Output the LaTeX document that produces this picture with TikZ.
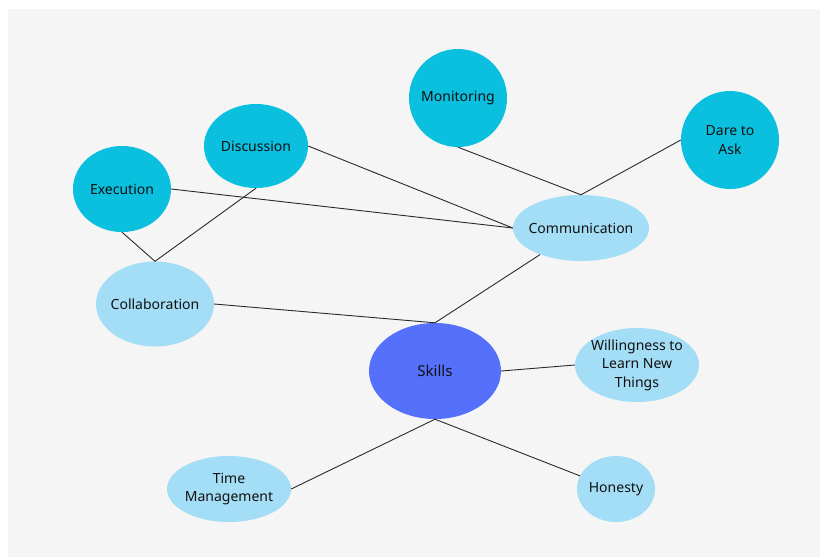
\documentclass[tikz,border=0pt]{standalone}
\usepackage{fontspec}
\setmainfont{Noto Sans}
\usetikzlibrary{shapes.geometric}
\definecolor{bgc}{HTML}{F5F5F5}
\definecolor{darkc}{HTML}{0BBFDF}
\definecolor{lightc}{HTML}{A3DDF6}
\definecolor{mainc}{HTML}{5570FA}
\definecolor{txt}{HTML}{111111}
\definecolor{edgec}{HTML}{2A2A2A}
\tikzset{
  bub/.style={ellipse, inner sep=0pt},
  dark/.style={bub, fill=darkc},
  light/.style={bub, fill=lightc},
  core/.style={bub, fill=mainc},
  lbl/.style={inner sep=0pt, align=center, text=txt,
    font=\fontsize{14}{18.4}\selectfont},
  corelbl/.style={lbl, font=\fontsize{15}{18}\selectfont},
  link/.style={draw=edgec, line width=0.9pt}
}
\begin{document}
\begin{tikzpicture}[x=1pt,y=-1pt]
\useasboundingbox (0,0) rectangle (820,558);
\fill[bgc] (8,9) rectangle (820,557);
\node[dark, minimum width=98pt, minimum height=98pt] (mon) at (458,98) {};
\node[dark, minimum width=98pt, minimum height=98pt] (dare) at (730,140) {};
\node[dark, minimum width=104pt, minimum height=84pt] (disc) at (256,146) {};
\node[dark, minimum width=98pt, minimum height=86pt] (exec) at (122,189) {};
\node[light, minimum width=136pt, minimum height=66pt] (comm) at (581,228) {};
\node[light, minimum width=118pt, minimum height=85pt] (coll) at (155,304) {};
\node[core, minimum width=132pt, minimum height=96pt] (skills) at (435,371) {};
\node[light, minimum width=124pt, minimum height=74pt] (will) at (637,365) {};
\node[light, minimum width=124pt, minimum height=66pt] (time) at (229,489) {};
\node[light, minimum width=78pt, minimum height=66pt] (hon) at (616,489) {};
\node[lbl] (tmon) at (mon) {Monitoring};
\node[lbl] (tdare) at (dare) {Dare to\\Ask};
\node[lbl] (tdisc) at (disc) {Discussion};
\node[lbl] (texec) at (exec) {Execution};
\node[lbl] (tcomm) at (comm) {Communication};
\node[lbl] (tcoll) at (coll) {Collaboration};
\node[corelbl] (tskills) at (skills) {Skills};
\node[lbl] (twill) at (will) {Willingness to\\Learn New\\Things};
\node[lbl] (ttime) at (time) {Time\\Management};
\node[lbl] (thon) at (hon) {Honesty};
\draw[link] (mon.south) -- (comm.north);
\draw[link] (dare.west) -- (comm.north);
\draw[link] (disc.east) -- (comm.west);
\draw[link] (exec.east) -- (comm.west);
\draw[link] (exec.south) -- (coll.north);
\draw[link] (disc.south) -- (coll.north);
\draw[link] (coll.east) -- (skills.north);
\draw[link] (comm.-147) -- (skills.north);
\draw[link] (skills.east) -- (will.west);
\draw[link] (skills.south) -- (time.east);
\draw[link] (skills.south) -- (hon.160);
\end{tikzpicture}
\end{document}
